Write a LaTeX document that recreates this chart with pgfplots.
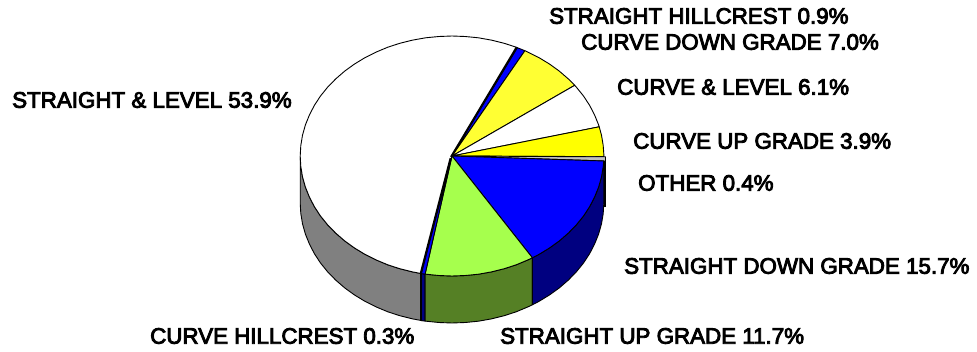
\documentclass[border=0pt]{standalone}
\usepackage{pgfplots}
\pgfplotsset{compat=1.18}
\usepackage{fontspec}
\setmainfont{Liberation Sans}
\font\labfont="Liberation Sans:embolden=4" at 22.35pt
\definecolor{sideolive}{HTML}{558025}
\definecolor{lime}{HTML}{A6FF4D}
\definecolor{softyellow}{HTML}{FFFF33}
\definecolor{pureyellow}{HTML}{FFFF00}
\definecolor{pureblue}{HTML}{0000FF}
\newcommand{\lab}[3]{\node[anchor=west,inner sep=0pt,font=\labfont] at (axis cs:#1,#2) {#3};}
\begin{document}
\begin{tikzpicture}
\path[use as bounding box] (0,0) rectangle (977pt,351pt);
\begin{axis}[at={(0,0)},anchor=south west,scale only axis,width=977pt,height=351pt,
  xmin=0,xmax=977,ymin=0,ymax=351,y dir=reverse,hide axis,clip=false,
  every axis plot/.append style={line width=0.9pt,line join=round}]
% side: gray
\addplot[draw=black,fill=gray] coordinates {(300.2,156)(300.8,166.5)(302.5,176.8)(305.4,187.1)(309.4,197.0)(314.4,206.7)(320.5,216)(327.6,224.8)(335.7,233.1)(344.7,240.9)(354.4,247.9)(364.9,254.3)(376.1,259.9)(387.8,264.8)(400.1,268.8)(412.7,271.9)(422.3,273.7)
 (422.3,320.7)(412.7,318.9)(400.1,315.8)(387.8,311.8)(376.1,306.9)(364.9,301.3)(354.4,294.9)(344.7,287.9)(335.7,280.1)(327.6,271.8)(320.5,263)(314.4,253.7)(309.4,244)(305.4,234.1)(302.5,223.8)(300.8,213.5)(300.2,203)} --cycle;
% side: navy strip
\addplot[draw=black,fill={rgb,255:red,0;green,0;blue,128}] coordinates {(421.5,273.6)(425.1,274.1)(425.1,321.1)(421.5,320.6)} --cycle;
% side: olive
\addplot[draw=black,fill=sideolive] coordinates {(425.1,274.1)(438.8,275.5)(452,276)(465.2,275.5)(478.4,274.2)(491.3,271.9)(503.9,268.8)(516.2,264.8)(527.9,259.9)(532.4,257.8)
 (532.4,304.8)(527.9,306.9)(516.2,311.8)(503.9,315.8)(491.3,318.9)(478.4,321.2)(465.2,322.5)(452,323)(438.8,322.5)(425.1,321.1)} --cycle;
% side: navy
\addplot[draw=black,fill={rgb,255:red,0;green,0;blue,128}] coordinates {(532.4,257.8)(539.1,254.3)(549.6,247.9)(559.3,240.9)(568.3,233.1)(576.4,224.8)(583.5,216)(589.6,206.7)(594.6,197)(598.6,187.1)(601.5,176.8)(603.2,166.5)(603.8,161)
 (603.8,203)(603.2,213.5)(601.5,223.8)(598.6,234.1)(594.6,244)(589.6,253.7)(583.5,263)(576.4,271.8)(568.3,280.1)(559.3,287.9)(549.6,294.9)(539.1,301.3)(532.4,304.8)} --cycle;
\addplot[draw=black,line width=1.2pt] coordinates {(605,161)(605,207)};
% top: STRAIGHT & LEVEL 53.9
\addplot[draw=black,fill=white] coordinates {(452,156)(517.4,47.7)(516.2,47.2)(503.9,43.2)(491.3,40.1)(478.4,37.8)(465.2,36.5)(452,36)(438.8,36.5)(425.6,37.8)(412.7,40.1)(400.1,43.2)(387.8,47.2)(376.1,52.1)(364.9,57.7)(354.4,64.1)(344.7,71.1)(335.7,78.9)(327.6,87.2)(320.5,96)(314.4,105.3)(309.4,115)(305.4,124.9)(302.5,135.2)(300.8,145.5)(300.2,156)(300.8,166.5)(302.5,176.8)(305.4,187.1)(309.4,197)(314.4,206.7)(320.5,216)(327.6,224.8)(335.7,233.1)(344.7,240.9)(354.4,247.9)(364.9,254.3)(376.1,259.9)(387.8,264.8)(400.1,268.8)(412.7,271.9)(421.5,273.6)} --cycle;
% top: STRAIGHT HILLCREST 0.9
\addplot[draw=black,fill=pureblue] coordinates {(452,156)(524.9,50.7)(517.4,47.7)} --cycle;
% top: CURVE DOWN GRADE 7.0
\addplot[draw=black,fill=softyellow] coordinates {(452,156)(574.7,85.3)(568.3,78.9)(559.3,71.1)(549.6,64.1)(539.1,57.7)(527.9,52.1)(524.9,50.7)} --cycle;
% top: CURVE & LEVEL 6.1
\addplot[draw=black,fill=white] coordinates {(452,156)(599.2,126.8)(598.6,124.9)(594.6,115)(589.6,105.3)(583.5,96)(576.4,87.2)(574.7,85.3)} --cycle;
% top: CURVE UP GRADE 3.9
\addplot[draw=black,fill=pureyellow] coordinates {(452,156)(604,156.6)(603.2,145.5)(601.5,135.2)(599.2,126.8)} --cycle;
% top: OTHER 0.4
\addplot[draw=black,fill={rgb,255:red,192;green,192;blue,192}] coordinates {(452,156)(605.5,161)(605.5,156.8)} --cycle;
% top: STRAIGHT DOWN GRADE 15.7
\addplot[draw=black,fill=pureblue] coordinates {(452,156)(532.4,257.8)(539.1,254.3)(549.6,247.9)(559.3,240.9)(568.3,233.1)(576.4,224.8)(583.5,216)(589.6,206.7)(594.6,197)(598.6,187.1)(601.5,176.8)(603.2,166.5)(603.8,161)} --cycle;
% top: STRAIGHT UP GRADE 11.7
\addplot[draw=black,fill=lime] coordinates {(452,156)(425.1,274.1)(438.8,275.5)(452,276)(465.2,275.5)(478.4,274.2)(491.3,271.9)(503.9,268.8)(516.2,264.8)(527.9,259.9)(532.4,257.8)} --cycle;
% top: CURVE HILLCREST 0.3
\addplot[draw=black,fill=pureblue] coordinates {(452,156)(421.5,273.6)(425.1,274.1)} --cycle;
% thick edges of the thin slices
\addplot[draw=black,line width=2pt] coordinates {(451,157)(516.5,47.5)};
\addplot[draw=black,line width=1.8pt] coordinates {(450.5,158)(420.6,273.5)};
\addplot[draw=black,line width=1.6pt] coordinates {(420.5,273.5)(420.5,321)};
\lab{549}{16}{STRAIGHT HILLCREST 0.9\%}
\lab{581}{42}{CURVE DOWN GRADE 7.0\%}
\lab{617}{87}{CURVE \& LEVEL 6.1\%}
\lab{633}{141}{CURVE UP GRADE 3.9\%}
\lab{638}{183}{OTHER 0.4\%}
\lab{624}{266}{STRAIGHT DOWN GRADE 15.7\%}
\lab{500}{336}{STRAIGHT UP GRADE 11.7\%}
\lab{150}{336}{CURVE HILLCREST 0.3\%}
\lab{12}{100}{STRAIGHT \& LEVEL 53.9\%}
\end{axis}
\end{tikzpicture}
\end{document}
